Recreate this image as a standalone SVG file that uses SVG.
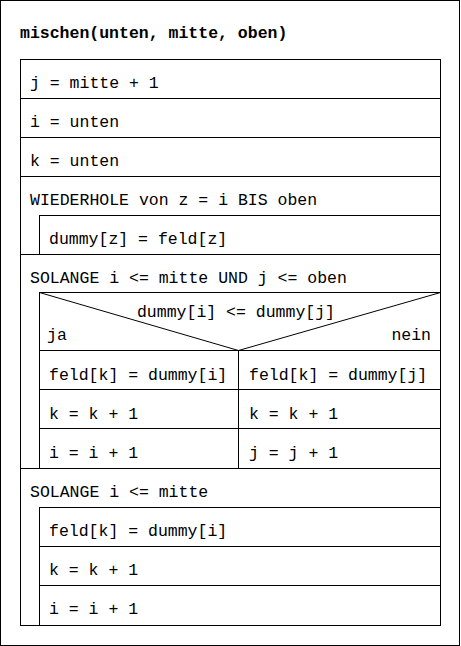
<svg xmlns="http://www.w3.org/2000/svg" width="461" height="646" viewBox="0 0 461 646">
<style>
  .ln { stroke: #000; stroke-width: 1; fill: none; }
  text { font-family: "Liberation Mono", "Courier New", monospace; font-size: 16.5px; fill: #000; }
  .title { font-weight: bold; }
</style>
<rect x="0" y="0" width="461" height="646" fill="#fff"/>
<rect class="ln" x="0.5" y="0.5" width="459" height="645"/>
<text class="title" x="20" y="38">mischen(unten, mitte, oben)</text>
<g id="connectors">
</g>
<g id="n1">
  <rect class="ln" x="20.5" y="59.5" width="420" height="39"/>
  <text x="30" y="88">j = mitte + 1</text>
</g>
<g id="n2">
  <rect class="ln" x="20.5" y="98.5" width="420" height="39"/>
  <text x="30" y="127">i = unten</text>
</g>
<g id="n3">
  <rect class="ln" x="20.5" y="137.5" width="420" height="39"/>
  <text x="30" y="166">k = unten</text>
</g>
<g id="loop1">
  <rect class="ln" x="20.5" y="176.5" width="420" height="78"/>
  <text x="30" y="205">WIEDERHOLE von z = i BIS oben</text>
</g>
<g id="n4">
  <rect class="ln" x="39.5" y="215.5" width="401" height="39"/>
  <text x="49" y="244">dummy[z] = feld[z]</text>
</g>
<g id="loop2">
  <rect class="ln" x="20.5" y="254.5" width="420" height="214"/>
  <text x="30" y="283">SOLANGE i &lt;= mitte UND j &lt;= oben</text>
</g>
<g id="decision">
  <rect class="ln" x="39.5" y="292.5" width="401" height="58"/>
  <polyline class="ln" points="39.5,292.5 238.5,350.5 440.5,292.5"/>
  <text x="236" y="317" text-anchor="middle">dummy[i] &lt;= dummy[j]</text>
  <text x="47" y="340">ja</text>
  <text x="431" y="340" text-anchor="end">nein</text>
</g>
<g id="n5">
  <rect class="ln" x="39.5" y="350.5" width="199" height="39"/>
  <text x="49" y="380">feld[k] = dummy[i]</text>
</g>
<g id="n6">
  <rect class="ln" x="39.5" y="389.5" width="199" height="39"/>
  <text x="49" y="419">k = k + 1</text>
</g>
<g id="n7">
  <rect class="ln" x="39.5" y="428.5" width="199" height="40"/>
  <text x="49" y="458">i = i + 1</text>
</g>
<g id="n8">
  <rect class="ln" x="238.5" y="350.5" width="202" height="39"/>
  <text x="249" y="380">feld[k] = dummy[j]</text>
</g>
<g id="n9">
  <rect class="ln" x="238.5" y="389.5" width="202" height="39"/>
  <text x="249" y="419">k = k + 1</text>
</g>
<g id="n10">
  <rect class="ln" x="238.5" y="428.5" width="202" height="40"/>
  <text x="249" y="458">j = j + 1</text>
</g>
<g id="loop3">
  <rect class="ln" x="20.5" y="468.5" width="420" height="157"/>
  <text x="30" y="497">SOLANGE i &lt;= mitte</text>
</g>
<g id="n11">
  <rect class="ln" x="39.5" y="507.5" width="401" height="39"/>
  <text x="49" y="536">feld[k] = dummy[i]</text>
</g>
<g id="n12">
  <rect class="ln" x="39.5" y="546.5" width="401" height="39"/>
  <text x="49" y="575">k = k + 1</text>
</g>
<g id="n13">
  <rect class="ln" x="39.5" y="585.5" width="401" height="40"/>
  <text x="49" y="614">i = i + 1</text>
</g>
</svg>
